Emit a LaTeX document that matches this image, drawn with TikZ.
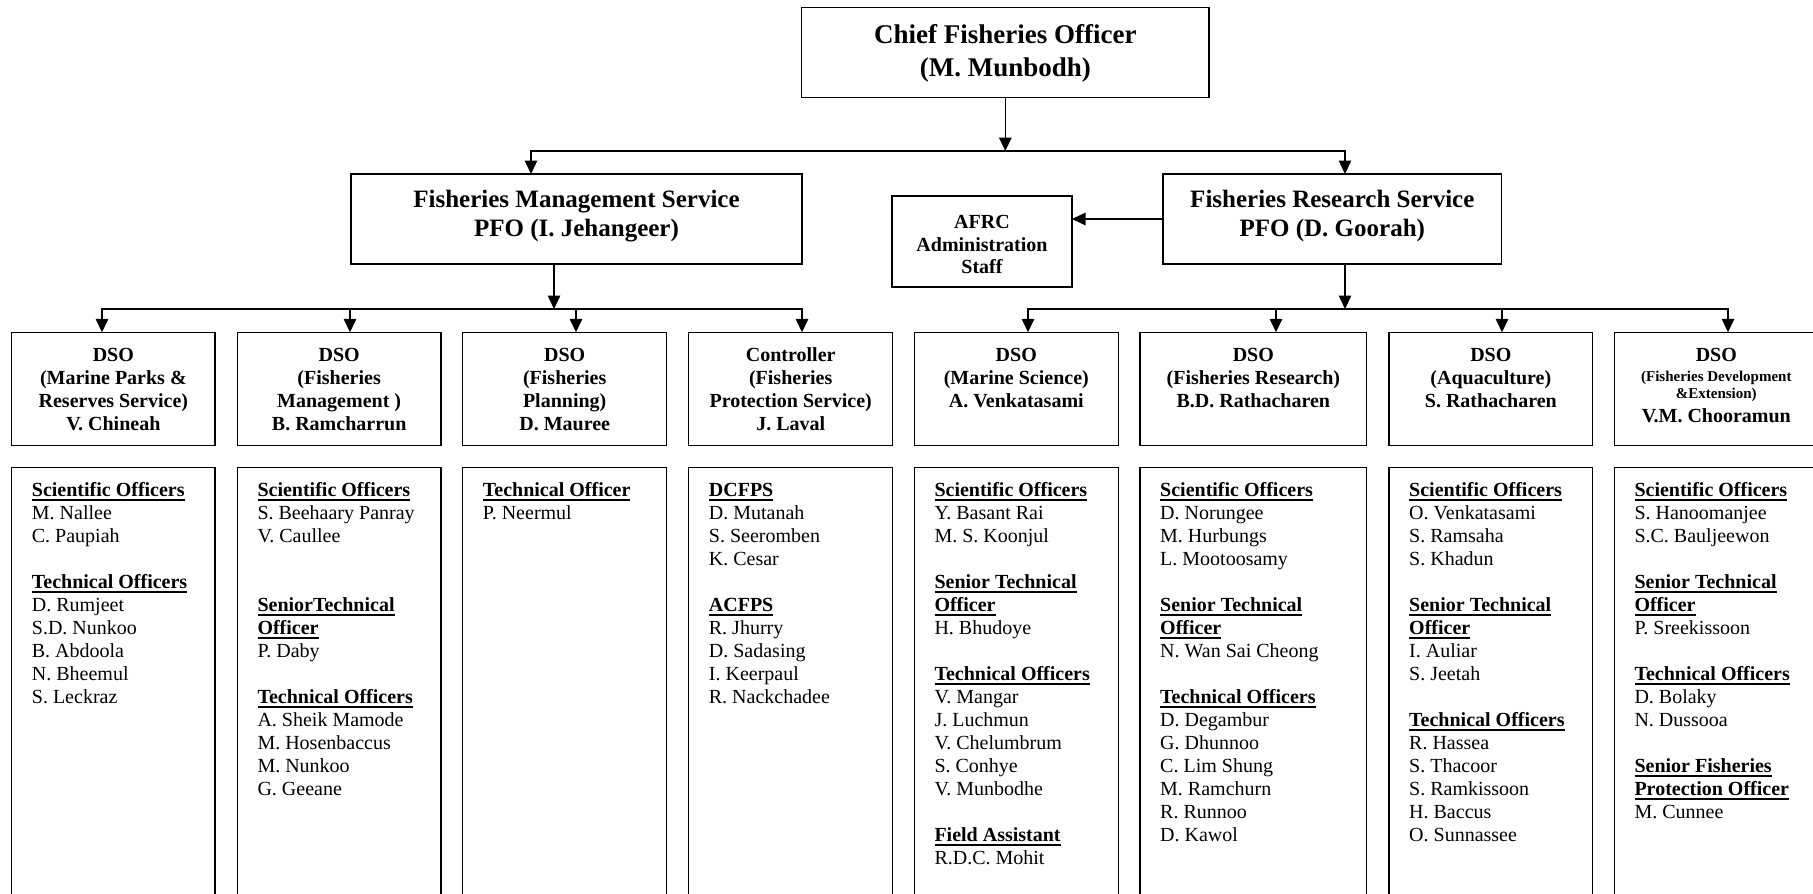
\documentclass[tikz,border=0pt]{standalone}
\usepackage{fontspec}
\setmainfont{Liberation Serif}
\usetikzlibrary{arrows.meta}

% bold heading with a heavy underline
\newcommand\ulhead[1]{\setbox0=\hbox{\bfseries #1}\rlap{\rule[-4.4pt]{\wd0}{1.5pt}}\box0}
% invisible strut that fixes the height of a node's first line
\newcommand\firstline[1]{\rule{0pt}{#1}}

\tikzset{
  box/.style={draw, line width=1.5pt, inner sep=0pt, outer sep=0pt},
  link/.style={line width=1.5pt, line cap=rect},
  arr/.style={link, -{Triangle[length=13.5pt,width=12.5pt]}},
  chieftext/.style={anchor=north, align=center, inner sep=0pt,
    font=\fontsize{27}{32.5}\selectfont\bfseries},
  svctext/.style={anchor=north, align=center, inner sep=0pt,
    font=\fontsize{25}{29}\selectfont\bfseries},
  afrctext/.style={anchor=north, align=center, inner sep=0pt,
    font=\fontsize{20}{22.5}\selectfont\bfseries},
  dsotext/.style={anchor=north, align=center, inner sep=0pt,
    font=\fontsize{20}{23}\selectfont\bfseries},
  smalldso/.style={anchor=base, inner sep=0pt,
    font=\fontsize{15}{17}\selectfont\bfseries},
  bigdso/.style={anchor=base, inner sep=0pt,
    font=\fontsize{20}{23}\selectfont\bfseries},
  listtext/.style={anchor=north west, align=left, inner sep=0pt,
    font=\fontsize{20}{23}\selectfont},
}

\begin{document}
\begin{tikzpicture}[x=1pt,y=-1pt]
\fill[white] (0,0) rectangle (1813,894);
\clip (0,0) rectangle (1813,894);

% ---- top levels ----
\node[box, minimum width=407.3pt, minimum height=90.4pt] (chief) at (1005.3,52.5) {};
\node[box, minimum width=451pt, minimum height=90pt] (fms) at (576.5,219) {};
\node[box, minimum width=338.6pt, minimum height=90pt] (frs) at (1332.3,219) {};
\node[box, minimum width=180pt, minimum height=90.7pt] (afrc) at (982,241.5) {};

\node[chieftext] (chieft) at (1005.3,21.3)
  {\firstline{22pt}Chief Fisheries Officer\\(M. Munbodh)};
\node[svctext] (fmst) at (576.5,187.7)
  {\firstline{20pt}Fisheries Management Service\\PFO (I. Jehangeer)};
\node[svctext] (frst) at (1332.3,187.7)
  {\firstline{20pt}Fisheries Research Service\\PFO (D. Goorah)};
\node[afrctext] (afrct) at (982,212.5)
  {\firstline{16pt}AFRC\\Administration\\Staff};

% ---- division heads ----
\node[box, minimum width=203.3pt, minimum height=113pt] (d1) at (113.35,388.8) {};
\node[box, minimum width=203.7pt, minimum height=113pt] (d2) at (339.15,388.8) {};
\node[box, minimum width=204pt, minimum height=113pt] (d3) at (564.7,388.8) {};
\node[box, minimum width=204pt, minimum height=113pt] (d4) at (790.7,388.8) {};
\node[box, minimum width=204pt, minimum height=113pt] (d5) at (1016.3,388.8) {};
\node[box, minimum width=226.7pt, minimum height=113pt] (d6) at (1253.35,388.8) {};
\node[box, minimum width=203.7pt, minimum height=113pt] (d7) at (1490.85,388.8) {};
\node[box, minimum width=204pt, minimum height=113pt] (d8) at (1716.3,388.8) {};

\node[dsotext] (d1t) at (113.35,345.5)
  {\firstline{16pt}DSO\\(Marine Parks \&\\Reserves Service)\\V. Chineah};
\node[dsotext] (d2t) at (339.15,345.5)
  {\firstline{16pt}DSO\\(Fisheries\\Management )\\B. Ramcharrun};
\node[dsotext] (d3t) at (564.7,345.5)
  {\firstline{16pt}DSO\\(Fisheries\\Planning)\\D. Mauree};
\node[dsotext] (d4t) at (790.7,345.5)
  {\firstline{16pt}Controller\\(Fisheries\\Protection Service)\\J. Laval};
\node[dsotext] (d5t) at (1016.3,345.5)
  {\firstline{16pt}DSO\\(Marine Science)\\A. Venkatasami};
\node[dsotext] (d6t) at (1253.35,345.5)
  {\firstline{16pt}DSO\\(Fisheries Research)\\B.D. Rathacharen};
\node[dsotext] (d7t) at (1490.85,345.5)
  {\firstline{16pt}DSO\\(Aquaculture)\\S. Rathacharen};
\node[bigdso] (d8a) at (1716.3,361.5) {DSO};
\node[smalldso] (d8b) at (1716.3,381) {(Fisheries Development};
\node[smalldso] (d8c) at (1716.3,398.5) {\&Extension)};
\node[bigdso] (d8d) at (1716.3,422.3) {V.M. Chooramun};

% ---- staff lists ----
\node[box, minimum width=203.3pt, minimum height=442.8pt] (s1) at (113.35,688.7) {};
\node[box, minimum width=203.7pt, minimum height=442.8pt] (s2) at (339.15,688.7) {};
\node[box, minimum width=204pt, minimum height=442.8pt] (s3) at (564.7,688.7) {};
\node[box, minimum width=204pt, minimum height=442.8pt] (s4) at (790.7,688.7) {};
\node[box, minimum width=204pt, minimum height=442.8pt] (s5) at (1016.3,688.7) {};
\node[box, minimum width=226.7pt, minimum height=442.8pt] (s6) at (1253.35,688.7) {};
\node[box, minimum width=203.7pt, minimum height=442.8pt] (s7) at (1490.85,688.7) {};
\node[box, minimum width=204pt, minimum height=442.8pt] (s8) at (1716.3,688.7) {};

\node[listtext] (s1t) at (31.7,480) {\firstline{16pt}\ulhead{Scientific Officers}\\
  M. Nallee\\C. Paupiah\\[23pt]
  \ulhead{Technical Officers}\\D. Rumjeet\\S.D. Nunkoo\\B. Abdoola\\N. Bheemul\\S. Leckraz};
\node[listtext] (s2t) at (257.3,480) {\firstline{16pt}\ulhead{Scientific Officers}\\
  S. Beehaary Panray\\V. Caullee\\[46pt]
  \ulhead{SeniorTechnical}\\\ulhead{Officer}\\P. Daby\\[23pt]
  \ulhead{Technical Officers}\\A. Sheik Mamode\\M. Hosenbaccus\\M. Nunkoo\\G. Geeane};
\node[listtext] (s3t) at (482.7,480) {\firstline{16pt}\ulhead{Technical Officer}\\
  P. Neermul};
\node[listtext] (s4t) at (708.7,480) {\firstline{16pt}\ulhead{DCFPS}\\
  D. Mutanah\\S. Seeromben\\K. Cesar\\[23pt]
  \ulhead{ACFPS}\\R. Jhurry\\D. Sadasing\\I. Keerpaul\\R. Nackchadee};
\node[listtext] (s5t) at (934.3,480) {\firstline{16pt}\ulhead{Scientific Officers}\\
  Y. Basant Rai\\M. S. Koonjul\\[23pt]
  \ulhead{Senior Technical}\\\ulhead{Officer}\\H. Bhudoye\\[23pt]
  \ulhead{Technical Officers}\\V. Mangar\\J. Luchmun\\V. Chelumbrum\\S. Conhye\\V. Munbodhe\\[23pt]
  \ulhead{Field Assistant}\\R.D.C. Mohit};
\node[listtext] (s6t) at (1160,480) {\firstline{16pt}\ulhead{Scientific Officers}\\
  D. Norungee\\M. Hurbungs\\L. Mootoosamy\\[23pt]
  \ulhead{Senior Technical}\\\ulhead{Officer}\\N. Wan Sai Cheong\\[23pt]
  \ulhead{Technical Officers}\\D. Degambur\\G. Dhunnoo\\C. Lim Shung\\M. Ramchurn\\R. Runnoo\\D. Kawol};
\node[listtext] (s7t) at (1409,480) {\firstline{16pt}\ulhead{Scientific Officers}\\
  O. Venkatasami\\S. Ramsaha\\S. Khadun\\[23pt]
  \ulhead{Senior Technical}\\\ulhead{Officer}\\I. Auliar\\S. Jeetah\\[23pt]
  \ulhead{Technical Officers}\\R. Hassea\\S. Thacoor\\S. Ramkissoon\\H. Baccus\\O. Sunnassee};
\node[listtext] (s8t) at (1634.3,480) {\firstline{16pt}\ulhead{Scientific Officers}\\
  S. Hanoomanjee\\S.C. Bauljeewon\\[23pt]
  \ulhead{Senior Technical}\\\ulhead{Officer}\\P. Sreekissoon\\[23pt]
  \ulhead{Technical Officers}\\D. Bolaky\\N. Dussooa\\[23pt]
  \ulhead{Senior Fisheries}\\\ulhead{Protection Officer}\\M. Cunnee};

% ---- connectors ----
\coordinate (chiefjoin) at (1005.3,151);
\coordinate (topL) at (531,151);
\coordinate (topR) at (1345,151);
\draw[arr] (chief.south) -- (chiefjoin);
\draw[link] (topL) -- (topR);
\draw[arr] (topL) -- (topL |- fms.north);
\draw[arr] (topR) -- (topR |- frs.north);
\draw[arr] (frs.west) -- (frs.west -| afrc.east);

\coordinate (fmsjoin) at (554,309);
\coordinate (frsjoin) at (1345,309);
\draw[arr] (fmsjoin |- fms.south) -- (fmsjoin);
\draw[arr] (frsjoin |- frs.south) -- (frsjoin);

\coordinate (t1) at (102,309);
\coordinate (t2) at (350,309);
\coordinate (t3) at (576,309);
\coordinate (t4) at (802,309);
\coordinate (t5) at (1028,309);
\coordinate (t6) at (1276,309);
\coordinate (t7) at (1502,309);
\coordinate (t8) at (1728,309);
\draw[link] (t1) -- (t4);
\draw[link] (t5) -- (t8);
\foreach \i in {1,...,8}
  \draw[arr] (t\i) -- (t\i |- d\i.north);
\end{tikzpicture}
\end{document}
